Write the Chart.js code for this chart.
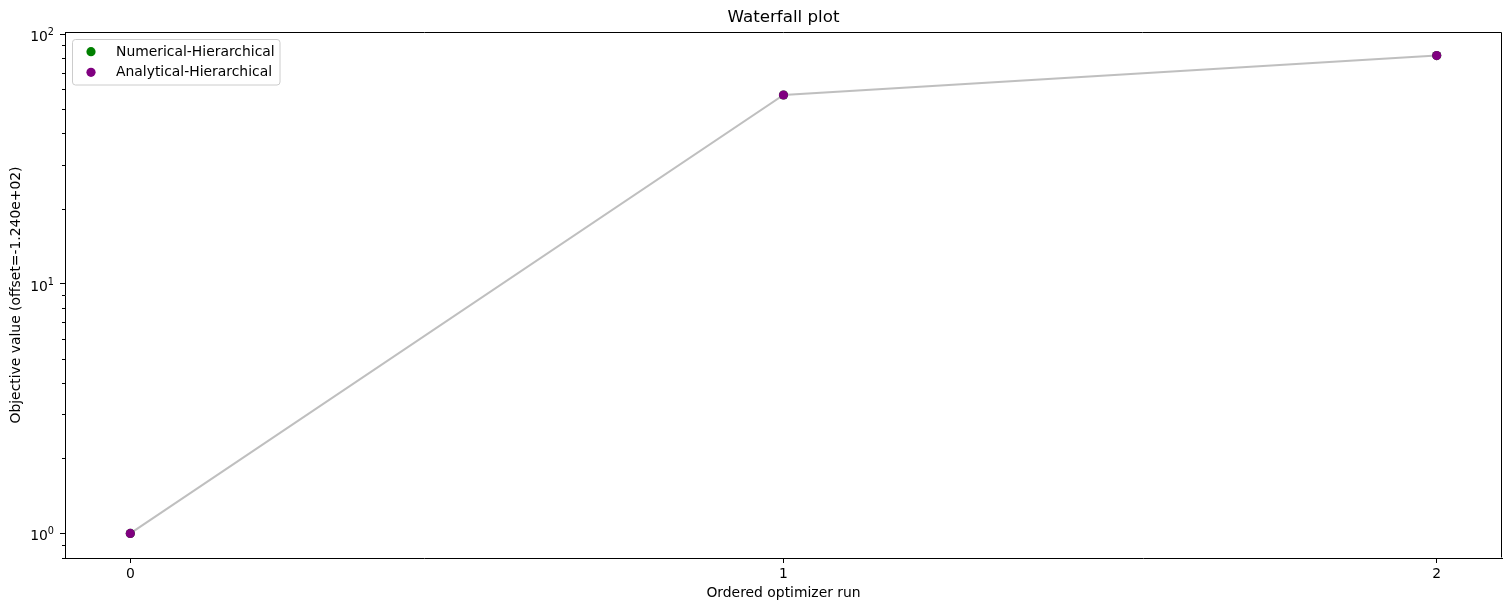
<!DOCTYPE html>
<html>
<head>
<meta charset="utf-8">
<script src="https://cdn.jsdelivr.net/npm/chart.js@4/dist/chart.umd.min.js"></script>
<style>
  html, body { margin: 0; padding: 0; background: #fff; }
  #wrap { width: 1511px; height: 611px; }
</style>
</head>
<body>
<div id="wrap"><canvas id="waterfall"></canvas></div>
<script>
// --- data ---
const runs = [0, 1, 2];
const numericalValues = [1.0, 57, 82];
const analyticalValues = [1.0, 57, 82];
const xTicks = [0, 1, 2];
const yMajorTicks = [1, 10, 100];
const yMinorTicks = [0.8, 0.9, 2, 3, 4, 5, 6, 7, 8, 9, 20, 30, 40, 50, 60, 70, 80, 90];

const FONT = 'DejaVu Sans';

function toPoints(values) {
  return runs.map((r, i) => ({ x: r, y: values[i] }));
}

// frame, minor ticks, log labels, title and legend drawn like matplotlib
const decorations = {
  id: 'decorations',
  afterDraw(chart) {
    const ctx = chart.ctx;
    const a = chart.chartArea;
    const yScale = chart.scales.y;

    ctx.save();
    ctx.strokeStyle = '#000';
    ctx.lineWidth = 1;
    const L = Math.round(a.left) + 0.5, R = Math.round(a.right) - 0.5;
    const T = Math.round(a.top) + 0.5, B = Math.round(a.bottom) - 0.5;
    ctx.beginPath();
    ctx.moveTo(L, T);
    ctx.lineTo(R, T);
    ctx.lineTo(R, B);
    ctx.stroke();

    // minor ticks on the log axis
    yMinorTicks.forEach(v => {
      if (v < yScale.min || v > yScale.max) return;
      const py = Math.round(yScale.getPixelForValue(v)) + 0.5;
      ctx.beginPath();
      ctx.moveTo(a.left - 3, py);
      ctx.lineTo(a.left, py);
      ctx.stroke();
    });

    // 10^n labels with a raised exponent
    ctx.fillStyle = '#000';
    ctx.textBaseline = 'alphabetic';
    ctx.textAlign = 'left';
    yScale.ticks.forEach(t => {
      const py = yScale.getPixelForValue(t.value);
      const e = String(Math.round(Math.log10(t.value)));
      ctx.font = '9.7px "' + FONT + '"';
      const we = ctx.measureText(e).width;
      ctx.font = '13.9px "' + FONT + '"';
      const wb = ctx.measureText('10').width;
      const right = a.left - 11;
      ctx.fillText('10', right - we - wb, py + 7);
      ctx.font = '9.7px "' + FONT + '"';
      ctx.fillText(e, right - we, py + 1);
    });

    // title
    ctx.font = '16.7px "' + FONT + '"';
    ctx.textAlign = 'center';
    ctx.textBaseline = 'middle';
    ctx.fillText('Waterfall plot', (a.left + a.right) / 2, 18);

    // legend
    const items = chart.data.datasets.filter(d => d.showInLegend)
      .sort((p, q) => p.legendIndex - q.legendIndex);
    const bx = 72.5, by = 39.5, bw = 207.5, bh = 45.5, r = 3;
    ctx.beginPath();
    ctx.moveTo(bx + r, by);
    ctx.lineTo(bx + bw - r, by);
    ctx.quadraticCurveTo(bx + bw, by, bx + bw, by + r);
    ctx.lineTo(bx + bw, by + bh - r);
    ctx.quadraticCurveTo(bx + bw, by + bh, bx + bw - r, by + bh);
    ctx.lineTo(bx + r, by + bh);
    ctx.quadraticCurveTo(bx, by + bh, bx, by + bh - r);
    ctx.lineTo(bx, by + r);
    ctx.quadraticCurveTo(bx, by, bx + r, by);
    ctx.closePath();
    ctx.fillStyle = 'rgba(255,255,255,0.8)';
    ctx.fill();
    ctx.strokeStyle = '#cccccc';
    ctx.stroke();

    ctx.font = '13.9px "' + FONT + '"';
    ctx.textAlign = 'left';
    items.forEach((d, i) => {
      const cy = 51.7 + i * 20.6;
      ctx.beginPath();
      ctx.arc(91, cy, 4.6, 0, Math.PI * 2);
      ctx.fillStyle = d.backgroundColor;
      ctx.fill();
      ctx.fillStyle = '#000';
      ctx.fillText(d.label, 116, cy + 0.5);
    });
    ctx.restore();
  }
};

new Chart(document.getElementById('waterfall'), {
  type: 'scatter',
  data: {
    datasets: [
      {
        label: 'Analytical-Hierarchical',
        data: toPoints(analyticalValues),
        backgroundColor: '#800080',
        borderColor: '#800080',
        pointRadius: 4.6,
        pointBorderWidth: 0,
        showInLegend: true,
        legendIndex: 1,
        order: 0
      },
      {
        label: 'Numerical-Hierarchical',
        data: toPoints(numericalValues),
        backgroundColor: '#008000',
        borderColor: '#008000',
        pointRadius: 4.6,
        pointBorderWidth: 0,
        showInLegend: true,
        legendIndex: 0,
        order: 1
      },
      {
        label: 'line',
        type: 'line',
        data: toPoints(analyticalValues),
        borderColor: 'rgba(128,128,128,0.5)',
        borderWidth: 2,
        pointRadius: 0,
        fill: false,
        tension: 0,
        order: 2
      }
    ]
  },
  options: {
    responsive: true,
    maintainAspectRatio: false,
    animation: false,
    layout: { padding: { top: 32, right: 9, left: 0, bottom: 0 } },
    plugins: {
      legend: { display: false },
      title: { display: false },
      tooltip: { enabled: false }
    },
    scales: {
      x: {
        type: 'linear',
        min: -0.1,
        max: 2.1,
        afterBuildTicks: s => { s.ticks = xTicks.map(v => ({ value: v })); },
        afterFit: s => { s.height = 53; },
        grid: { display: true, drawOnChartArea: false, tickLength: 5, color: '#000' },
        border: { display: true, color: '#000', width: 1 },
        ticks: { color: '#000', padding: 3, font: { family: FONT, size: 13.9 } },
        title: {
          display: true,
          text: 'Ordered optimizer run',
          color: '#000',
          font: { family: FONT, size: 13.9 },
          padding: { top: 0, bottom: 9 }
        }
      },
      y: {
        type: 'logarithmic',
        min: 0.797,
        max: 101.9,
        afterBuildTicks: s => { s.ticks = yMajorTicks.map(v => ({ value: v })); },
        afterFit: s => { s.width = 65; },
        grid: { display: true, drawOnChartArea: false, tickLength: 5, color: '#000' },
        border: { display: true, color: '#000', width: 1 },
        ticks: {
          color: 'rgba(0,0,0,0)',
          padding: 4,
          font: { family: FONT, size: 13.9 },
          callback: v => '10^' + Math.round(Math.log10(v))
        },
        title: {
          display: true,
          text: 'Objective value (offset=-1.240e+02)',
          color: '#000',
          font: { family: FONT, size: 13.9 },
          padding: { top: 8, bottom: 0 }
        }
      }
    }
  },
  plugins: [decorations]
});
</script>
</body>
</html>
